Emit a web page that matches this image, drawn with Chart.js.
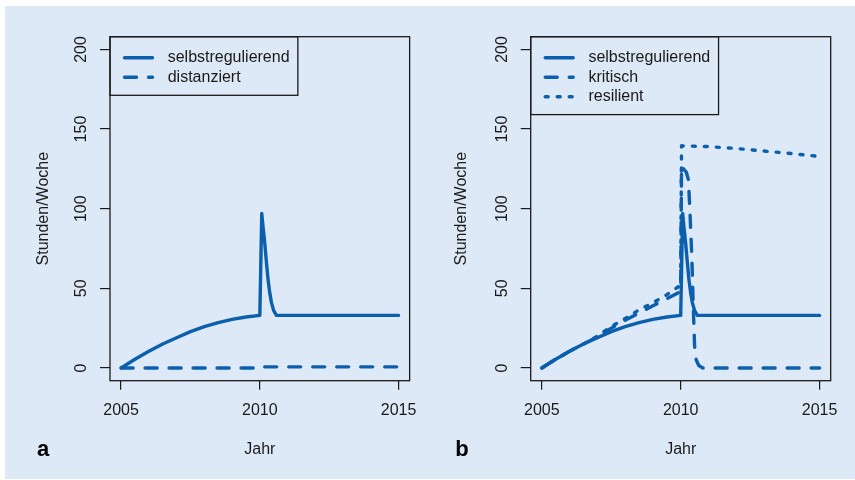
<!DOCTYPE html>
<html>
<head>
<meta charset="utf-8">
<script src="https://cdn.jsdelivr.net/npm/chart.js@4/dist/chart.umd.min.js"></script>
<style>
body { margin: 0; background: #fff; }
#container { position: relative; width: 855px; height: 480px; overflow: hidden; }
#bg { position: absolute; left: 5px; top: 6px; width: 850px; height: 473px; background: #dde9f6; }
canvas { position: absolute; top: 0; }
</style>
</head>
<body>
<div id="container">
  <div id="bg"></div>
  <canvas id="chartA" width="428" height="480" style="left:0px"></canvas>
  <canvas id="chartB" width="428" height="480" style="left:427px"></canvas>
</div>
<script>
// Werte
var jahrTicks = [2005, 2010, 2015];
var stundenTicks = [0, 50, 100, 150, 200];

var jahreSelbst = [2005, 2005.5, 2006, 2006.5, 2007, 2007.5, 2008, 2008.5, 2009, 2009.5, 2010,
    2010.02, 2010.07, 2010.12, 2010.18, 2010.24, 2010.3, 2010.36, 2010.42, 2010.5, 2010.6, 2011, 2015];
var stundenSelbst = [0, 5.5, 10.5, 15, 19, 22.8, 26, 28.5, 30.5, 32, 33,
    51, 97, 88, 78, 66, 55, 47, 41, 36, 33, 33, 33];

var jahreDistanziert = [2005, 2010, 2010.05, 2015];
var stundenDistanziert = [0, 0, 0.7, 0.7];

var jahreKritisch = [2005, 2005.5, 2006, 2006.5, 2007, 2007.5, 2008, 2008.5, 2009, 2009.5, 2010,
    2010.03, 2010.1, 2010.2, 2010.28, 2010.34, 2010.4, 2010.45, 2010.5, 2010.56, 2010.65, 2010.8, 2015];
var stundenKritisch = [0, 5.5, 10.5, 15, 19.5, 25, 30, 34.5, 39, 43.5, 48,
    127, 125, 123, 118, 95, 70, 40, 14, 5, 1.5, 0, 0];

var jahreResilient = [2005, 2005.5, 2006, 2006.5, 2007, 2007.5, 2008, 2008.5, 2009, 2009.5, 2010,
    2010.03, 2011, 2012, 2013, 2014, 2015];
var stundenResilient = [0, 5.5, 10.5, 15, 20, 26, 31, 36.5, 41, 46, 52,
    139.5, 139, 137.8, 136.2, 134.6, 132.8];

var blau = '#0c5fad';
var dunkel = '#1a1a1a';
var schrift = '"Liberation Sans", Arial, Helvetica, sans-serif';

function punkte(xs, ys) {
    return xs.map(function (x, i) { return { x: x, y: ys[i] }; });
}

function linie(label, xs, ys, dash) {
    return {
        label: label,
        data: punkte(xs, ys),
        borderColor: blau,
        borderWidth: 3.4,
        borderDash: dash,
        borderCapStyle: 'round',
        borderJoinStyle: 'round',
        pointRadius: 0,
        tension: 0,
        fill: false,
    };
}

// Rahmen um den Plotbereich, Legende im R-Stil und Buchstabe a/b
var rahmen = {
    id: 'rahmen',
    afterDraw: function (chart) {
        var ctx = chart.ctx;
        var ca = chart.chartArea;
        var sets = chart.data.datasets;
        ctx.save();
        ctx.strokeStyle = dunkel;
        ctx.lineWidth = 1.3;
        ctx.strokeRect(ca.left, ca.top, ca.right - ca.left, ca.bottom - ca.top);

        ctx.font = '16px ' + schrift;
        var breit = 0;
        sets.forEach(function (d) { breit = Math.max(breit, ctx.measureText(d.label).width); });
        var h = 20 + sets.length * 19.3;
        ctx.strokeRect(ca.left, ca.top, 58 + breit + 8, h);
        sets.forEach(function (d, i) {
            var y = ca.top + 21 + i * 19.5;
            ctx.strokeStyle = d.borderColor;
            ctx.lineWidth = d.borderWidth;
            ctx.lineCap = 'round';
            ctx.setLineDash(d.borderDash || []);
            ctx.beginPath();
            ctx.moveTo(ca.left + 14.5, y);
            ctx.lineTo(ca.left + 42.5, y);
            ctx.stroke();
            ctx.setLineDash([]);
            ctx.fillStyle = dunkel;
            ctx.textBaseline = 'middle';
            ctx.textAlign = 'left';
            ctx.fillText(d.label, ca.left + 57.7, y);
        });

        var opt = chart.options.plugins.rahmen;
        ctx.font = 'bold 22px ' + schrift;
        ctx.fillStyle = '#000';
        ctx.textAlign = 'center';
        ctx.textBaseline = 'middle';
        ctx.fillText(opt.buchstabe, opt.bx, 450);
        ctx.restore();
    }
};

function optionen(yBreite, rechts, titelAbstand, buchstabe, bx) {
    return {
        responsive: false,
        animation: false,
        layout: { padding: { left: 0, top: 36.7, right: rechts, bottom: 0 } },
        plugins: {
            legend: { display: false },
            tooltip: { enabled: false },
            rahmen: { buchstabe: buchstabe, bx: bx },
        },
        scales: {
            x: {
                type: 'linear',
                min: 2004.6,
                max: 2015.4,
                afterBuildTicks: function (s) { s.ticks = jahrTicks.map(function (v) { return { value: v }; }); },
                afterFit: function (s) { s.height = 99.3; },
                border: { display: false },
                grid: { drawOnChartArea: false, drawTicks: true, tickLength: 9, color: dunkel, lineWidth: 1.2 },
                ticks: {
                    autoSkip: false,
                    maxRotation: 0,
                    padding: 11,
                    color: dunkel,
                    font: { family: schrift, size: 16 },
                    callback: function (v) { return String(v); },
                },
                title: {
                    display: true,
                    text: 'Jahr',
                    color: dunkel,
                    font: { family: schrift, size: 16 },
                    padding: { top: 0, bottom: 20.4 },
                },
            },
            y: {
                min: -8,
                max: 208,
                afterBuildTicks: function (s) { s.ticks = stundenTicks.map(function (v) { return { value: v }; }); },
                afterFit: function (s) { s.width = yBreite; },
                border: { display: false },
                grid: { drawOnChartArea: false, drawTicks: true, tickLength: 10, color: dunkel, lineWidth: 1.2 },
                ticks: {
                    minRotation: 90,
                    maxRotation: 90,
                    crossAlign: 'center',
                    padding: 5,
                    color: dunkel,
                    font: { family: schrift, size: 16 },
                    callback: function (v) { return String(v); },
                },
                title: {
                    display: true,
                    text: 'Stunden/Woche',
                    color: dunkel,
                    font: { family: schrift, size: 16 },
                    padding: { top: titelAbstand, bottom: 0 },
                },
            },
        },
    };
}

var chartA = new Chart(document.getElementById('chartA'), {
    type: 'line',
    data: {
        datasets: [
            linie('selbstregulierend', jahreSelbst, stundenSelbst, []),
            linie('distanziert', jahreDistanziert, stundenDistanziert, [12, 12]),
        ],
    },
    options: optionen(110, 18, 33.7, 'a', 43),
    plugins: [rahmen],
});

var chartB = new Chart(document.getElementById('chartB'), {
    type: 'line',
    data: {
        datasets: [
            linie('selbstregulierend', jahreSelbst, stundenSelbst, []),
            linie('kritisch', jahreKritisch, stundenKritisch, [12, 12]),
            linie('resilient', jahreResilient, stundenResilient, [3, 9]),
        ],
    },
    options: optionen(103.7, 24.3, 25.1, 'b', 35),
    plugins: [rahmen],
});
</script>
</body>
</html>
